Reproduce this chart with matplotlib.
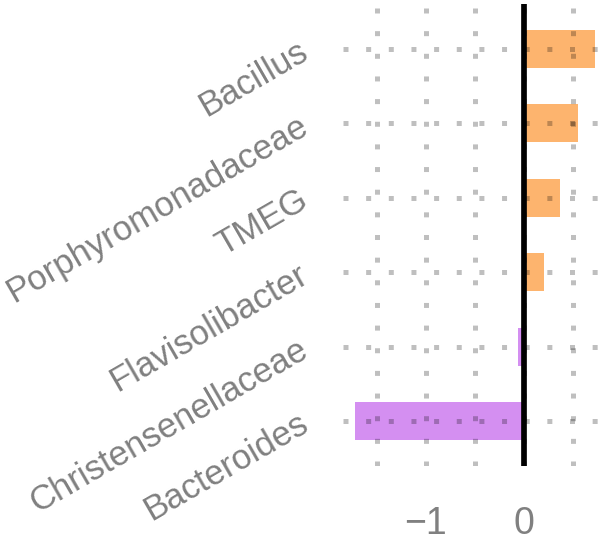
import matplotlib
matplotlib.use("Agg")
import matplotlib.pyplot as plt

# taxa, bottom to top
taxa = ["Bacteroides", "Christensenellaceae", "Flavisolibacter", "TMEG",
        "Porphyromonadaceae", "Bacillus"]
# effect sizes
effect = [-1.72, -0.06, 0.20, 0.37, 0.55, 0.72]
pos_color = "#FDB46E"
neg_color = "#D48FF1"
x_ticks = [-1, 0]
x_ticklabels = ["\u22121", "0"]
x_minor = [-1.5, -0.5, 0.5]

plt.rcParams["font.family"] = ["Liberation Sans", "DejaVu Sans"]
txt_gray = "#808080"

fig = plt.figure(figsize=(6, 5.44), dpi=100)
ax = fig.add_axes([343/600, 78/544, 257/600, 462/544])

colors = [pos_color if v > 0 else neg_color for v in effect]
ypos = list(range(len(taxa)))
ax.barh(ypos, effect, height=0.51, color=colors, zorder=1)

# sparse square dots for the grid, on top of the bars
dot = dict(color="black", alpha=0.25, linewidth=3.6, linestyle=(0, (1, 3.53)),
           dash_capstyle="butt")
ax.set_xticks(x_ticks)
ax.set_xticklabels(x_ticklabels)
ax.set_xticks(x_minor, minor=True)
ax.set_yticks(ypos)
ax.set_yticklabels(taxa, rotation=30, ha="right", va="center", rotation_mode="anchor")
ax.grid(True, which="both", zorder=2, **dot)
ax.set_axisbelow(False)

ax.axvline(0, color="black", linewidth=4.1, zorder=3)

ax.set_xlim((343 - 524) / 98, (600 - 524) / 98)
ax.set_ylim(-0.6, 5.6)

for s in ax.spines.values():
    s.set_visible(False)
ax.tick_params(axis="both", which="both", length=0)
ax.tick_params(axis="x", labelsize=27, labelcolor=txt_gray, pad=29)
ax.tick_params(axis="y", labelsize=25, labelcolor=txt_gray, pad=27)

fig.savefig("out.png", dpi=100)
